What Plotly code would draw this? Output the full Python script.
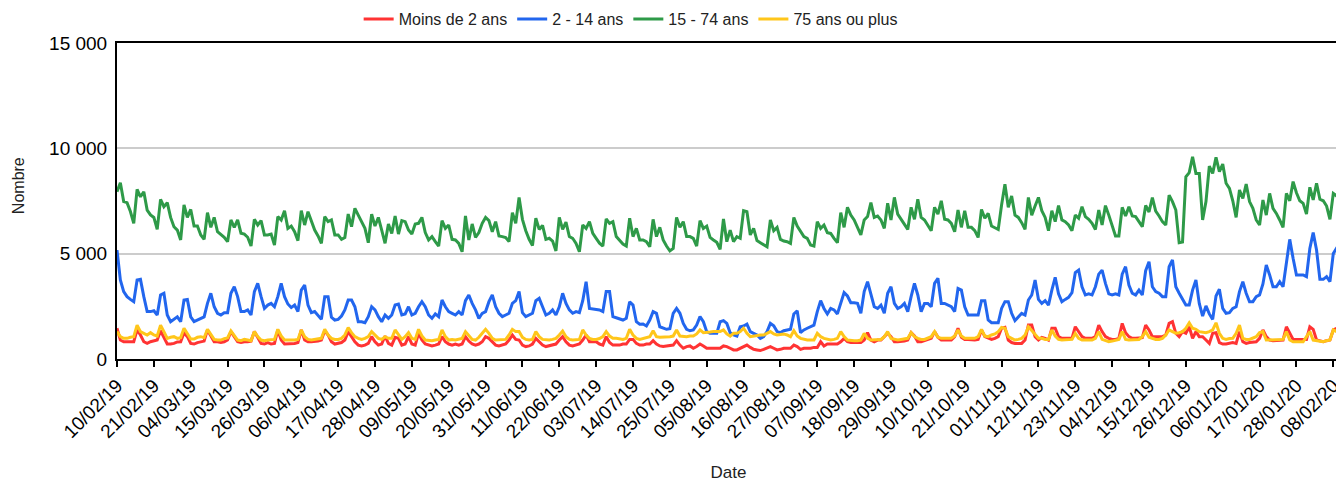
import pandas as pd
import plotly.graph_objects as go

# Daily values, 10/02/2019 -> 10/02/2020 (rows of 7 days, starting on Sunday)
dates = pd.date_range("2019-02-10", periods=366, freq="D")

moins_2_ans = [
    1460, 900, 820, 820, 820, 820, 1380,
    1140, 820, 740, 820, 850, 900, 1340,
    1060, 710, 710, 740, 810, 820, 1250,
    1060, 740, 710, 780, 810, 850, 1380,
    1060, 820, 820, 780, 820, 900, 1300,
    1060, 820, 780, 820, 820, 850, 1300,
    1030, 740, 710, 780, 710, 740, 1380,
    900, 710, 710, 710, 740, 780, 1380,
    900, 820, 820, 820, 850, 900, 1340,
    1140, 820, 710, 740, 780, 900, 1300,
    1060, 820, 660, 620, 660, 740, 1060,
    820, 660, 710, 1090, 740, 660, 1030,
    980, 660, 710, 1060, 710, 660, 1220,
    900, 710, 660, 620, 660, 710, 1060,
    820, 710, 660, 710, 660, 710, 1060,
    850, 710, 660, 710, 820, 1060, 980,
    820, 660, 620, 660, 710, 900, 1140,
    930, 900, 660, 590, 620, 710, 980,
    820, 660, 590, 620, 660, 710, 900,
    1060, 820, 660, 620, 660, 710, 900,
    1140, 820, 820, 820, 710, 660, 1060,
    780, 660, 660, 660, 710, 710, 930,
    930, 740, 660, 660, 710, 710, 870,
    710, 620, 590, 620, 660, 660, 870,
    660, 510, 590, 620, 510, 590, 710,
    620, 510, 510, 510, 510, 510, 620,
    590, 510, 430, 430, 510, 590, 660,
    550, 460, 430, 400, 460, 510, 590,
    510, 430, 460, 510, 510, 510, 660,
    590, 460, 510, 510, 510, 550, 550,
    820, 620, 710, 710, 710, 710, 820,
    980, 820, 780, 780, 780, 780, 900,
    1250, 900, 820, 900, 900, 1060, 1220,
    1060, 820, 820, 820, 850, 900, 1250,
    1090, 820, 820, 870, 900, 980, 1300,
    1030, 900, 900, 900, 900, 1060, 1460,
    1030, 930, 930, 900, 900, 930, 1380,
    1060, 980, 930, 980, 1060, 1460, 1500,
    900, 780, 740, 740, 740, 900, 1610,
    1610, 1060, 900, 1030, 980, 900, 1460,
    1460, 1060, 980, 980, 980, 980, 1530,
    1300, 1060, 980, 980, 980, 1060, 1610,
    1300, 1060, 980, 930, 930, 980, 1690,
    1250, 1060, 980, 980, 1010, 1010, 1610,
    1380, 1060, 1060, 1060, 1060, 1140, 1690,
    1770, 1220, 1060, 1300, 1220, 1530, 980,
    1300, 1060, 1060, 900, 740, 1220, 1250,
    780, 710, 710, 740, 780, 740, 1300,
    820, 740, 780, 810, 820, 980, 1380,
    1060, 900, 870, 870, 900, 900, 1530,
    1220, 930, 930, 930, 930, 930, 1530,
    1410, 900, 870, 820, 870, 900, 1380,
    1460, 1410,
]

de_2_a_14_ans = [
    5170, 3750, 3200, 2960, 2830, 2720, 3750,
    3780, 2960, 2250, 2250, 2290, 2090, 3040,
    3120, 2090, 1770, 1880, 2000, 1770, 2800,
    2830, 2000, 1770, 1850, 1930, 2000, 2640,
    3120, 2480, 2170, 2090, 2200, 2200, 3120,
    3430, 2960, 2250, 2250, 2330, 2090, 3200,
    3590, 2960, 2400, 2560, 2640, 2480, 2960,
    3590, 2960, 2610, 2440, 2560, 2250, 3270,
    3510, 2560, 2200, 2250, 2090, 1880, 2960,
    2960, 1980, 1850, 1880, 2040, 2330, 2800,
    2800, 2480, 1770, 1770, 1720, 2010, 2480,
    2330, 2010, 1770, 2090, 1930, 2090, 2560,
    2610, 2090, 2140, 2480, 2090, 2170, 2480,
    2720, 2480, 2090, 1930, 2140, 2010, 2800,
    2480, 2250, 2170, 2090, 2250, 2090, 2770,
    3040, 2640, 2330, 1930, 2170, 2250, 2720,
    3040, 2480, 2170, 2010, 2090, 2170, 2640,
    2770, 3200, 2200, 2010, 2090, 2170, 2770,
    2880, 2480, 2090, 2170, 2330, 2090, 2480,
    3120, 2640, 2330, 2170, 2250, 2200, 2770,
    3670, 2400, 2370, 2360, 2330, 2250, 3200,
    3200, 2010, 1960, 1900, 1850, 1930, 2720,
    2560, 1770, 1650, 1660, 1570, 1850, 2250,
    2170, 1530, 1460, 1410, 1440, 2170, 2400,
    2170, 1690, 1410, 1340, 1380, 1610, 2010,
    1770, 1300, 1220, 1220, 1220, 1770, 1820,
    1690, 1250, 1140, 1090, 1530, 1570, 1660,
    1300, 1220, 1140, 980, 1060, 1300, 1690,
    1580, 1300, 1250, 1340, 1380, 1410, 2140,
    2290, 1250, 1380, 1460, 1530, 1610, 2250,
    2770, 2400, 2140, 2400, 2330, 2140, 2640,
    3150, 2990, 2670, 2670, 2640, 2170, 3200,
    3670, 3090, 2480, 2400, 2560, 2170, 3120,
    3430, 2640, 2400, 2480, 2640, 2250, 2960,
    3590, 3040, 2250, 2640, 2640, 2480, 3590,
    3830, 2640, 2640, 2560, 2480, 2250, 3350,
    3270, 2480, 2090, 2090, 2090, 2090, 2770,
    2770, 1850, 1720, 1720, 1720, 2400, 2720,
    2720, 2170, 1820, 2010, 2170, 2090, 2800,
    3040, 3750, 2830, 2640, 2770, 2560, 3270,
    3880, 3090, 2720, 2830, 2930, 3150, 4100,
    4220, 3430, 3040, 3090, 3040, 3430, 4030,
    4220, 3590, 3090, 3040, 3090, 3040, 4030,
    4380, 3510, 3120, 3040, 3270, 3040, 4190,
    4620, 3430, 3200, 3120, 2960, 2960, 4380,
    4700, 3430, 3120, 2800, 2560, 2560, 3270,
    3750, 2640, 2040, 2520, 2140, 1880, 2990,
    3310, 2400, 2170, 2200, 2400, 2480, 3200,
    3670, 3120, 2720, 2720, 2960, 3040, 3560,
    4460, 3990, 3430, 3430, 3670, 3430, 4460,
    5680, 4780, 3990, 3990, 3990, 3910, 5250,
    6000, 5170, 3780, 3780, 3910, 3670, 5010,
    5250, 5520,
]

de_15_a_74_ans = [
    7940, 8370, 7470, 7420, 7000, 6440, 8050,
    7700, 7940, 7070, 6840, 6720, 6150, 7580,
    7230, 7420, 6720, 6280, 6120, 5650, 7310,
    6720, 7100, 6310, 6310, 5890, 5680, 6950,
    6250, 6720, 6040, 5890, 5780, 5570, 6600,
    6250, 6600, 5970, 5930, 5780, 5360, 6630,
    6360, 6570, 5890, 5890, 5930, 5410, 6760,
    6600, 7040, 6200, 6310, 6040, 5620, 7040,
    6360, 6990, 6520, 6120, 5840, 5490, 6760,
    6520, 6600, 5890, 5890, 5680, 5770, 6880,
    6280, 7150, 6830, 6520, 6200, 5520, 6880,
    6310, 6720, 6120, 5490, 6410, 5960, 6790,
    5930, 6570, 6520, 6120, 5930, 6410, 6440,
    6720, 6000, 5650, 5810, 5570, 5360, 6570,
    6200, 6360, 5680, 5650, 5490, 5090, 6790,
    5650, 6410, 5770, 6000, 6440, 6720, 6570,
    6040, 6520, 5840, 5810, 5760, 5570, 6950,
    6440, 7670, 6630, 6090, 5680, 5390, 6680,
    6150, 6340, 5680, 5730, 5600, 5130, 6720,
    6150, 6500, 5810, 5730, 5490, 5090, 6360,
    6200, 6520, 5960, 5730, 5500, 5360, 6650,
    6440, 6520, 5810, 5650, 5460, 5360, 6680,
    5810, 6200, 5650, 5650, 5570, 5330, 6630,
    5810, 6250, 5650, 5360, 5130, 5250, 6720,
    6250, 6520, 5810, 5810, 5730, 5360, 6570,
    6200, 6310, 5770, 5650, 5540, 5200, 6650,
    5570, 6120, 5570, 5810, 5730, 7040, 6990,
    5890, 6200, 5620, 5520, 5440, 5330, 6600,
    6090, 6250, 5680, 5600, 5570, 5490, 6720,
    6310, 6090, 5810, 5730, 5410, 5360, 6520,
    6200, 6360, 6000, 5960, 5730, 5520, 6950,
    6250, 7200, 6830, 6600, 6280, 5890, 6600,
    6760, 7420, 6720, 6790, 6600, 6200, 7390,
    6600, 7670, 6880, 6650, 6410, 6150, 7200,
    6630, 7580, 6720, 6600, 6360, 6090, 7200,
    6880, 7510, 6630, 6600, 6440, 6040, 7070,
    6250, 7040, 6250, 6250, 6090, 5770, 7100,
    6680, 6910, 6310, 6230, 6150, 7310, 8300,
    7200, 7740, 6830, 6720, 6470, 6150, 7670,
    6830, 7260, 7670, 7040, 6720, 6090, 7040,
    6520, 7280, 6600, 6520, 6360, 6090, 6830,
    6680, 7230, 6760, 6630, 6440, 6150, 7070,
    6360, 7280, 6830, 6360, 5840, 5840, 7200,
    6790, 7230, 6790, 6760, 6520, 6280, 7290,
    6980, 7660, 7020, 6790, 6520, 6360, 7780,
    7470, 7070, 5520, 5550, 8650, 8850, 9600,
    8810, 8810, 6600, 7470, 9160, 8810, 9570,
    8890, 9250, 8340, 8100, 7510, 6720, 8020,
    7620, 8300, 7470, 7150, 6600, 6360, 7550,
    6830, 7860, 7150, 6910, 6600, 6250, 7860,
    7510, 8420, 7890, 7510, 7390, 6880, 8150,
    7550, 8340, 7580, 7510, 7260, 6630, 7860,
    7740, 7550,
]

de_75_ans_ou_plus = [
    1300, 1060, 980, 980, 1030, 1060, 1610,
    1300, 1220, 1140, 1250, 1140, 1090, 1610,
    1300, 980, 1030, 1060, 980, 1010, 1460,
    1220, 950, 950, 1030, 1060, 1010, 1410,
    1140, 930, 900, 900, 970, 1000, 1330,
    1140, 900, 870, 930, 900, 870, 1300,
    1060, 900, 870, 900, 900, 930, 1410,
    1090, 900, 900, 870, 900, 930, 1380,
    1060, 930, 900, 930, 930, 980, 1410,
    1140, 980, 930, 930, 980, 1140, 1490,
    1250, 1060, 980, 930, 980, 1060, 1300,
    1140, 980, 930, 1060, 980, 980, 1380,
    1140, 930, 1060, 1250, 980, 930, 1410,
    1090, 900, 870, 870, 900, 930, 1380,
    1060, 900, 930, 900, 930, 980, 1300,
    1090, 930, 900, 1030, 1220, 1410, 1220,
    980, 900, 900, 930, 930, 1140, 1410,
    1300, 1300, 1030, 930, 900, 930, 1300,
    1060, 930, 900, 900, 930, 980, 1140,
    1330, 1060, 930, 900, 900, 930, 1380,
    1140, 980, 930, 930, 970, 1060, 1300,
    1090, 980, 980, 970, 930, 980, 1410,
    1140, 980, 930, 980, 1030, 1060, 1340,
    1060, 1030, 1030, 1030, 1060, 1090, 1380,
    1090, 1060, 1060, 1090, 1090, 1190, 1380,
    1250, 1250, 1280, 1300, 1300, 1300, 1380,
    1190, 1090, 1220, 1220, 1300, 1460, 1220,
    1060, 1090, 1140, 1140, 1140, 1220, 1300,
    1190, 1140, 1160, 1190, 1140, 1060, 1340,
    1090, 980, 930, 900, 900, 900, 1220,
    1060, 980, 930, 900, 930, 980, 1300,
    1060, 900, 870, 870, 870, 900, 1220,
    980, 900, 900, 900, 930, 1060, 1300,
    980, 930, 900, 930, 970, 980, 1250,
    1060, 980, 930, 930, 980, 1060, 1300,
    1030, 980, 980, 980, 980, 1090, 1380,
    1090, 980, 980, 980, 980, 1060, 1410,
    1090, 1060, 1140, 1190, 1300, 1500, 1460,
    1060, 980, 900, 930, 980, 1140, 1530,
    1350, 1140, 980, 980, 930, 930, 1380,
    1090, 930, 900, 900, 900, 930, 1220,
    980, 900, 900, 900, 900, 980, 1300,
    930, 870, 820, 850, 900, 930, 1300,
    930, 900, 900, 930, 930, 1060, 1300,
    1030, 980, 930, 930, 980, 1140, 1380,
    1300, 1220, 1250, 1300, 1460, 1720, 1460,
    1410, 1300, 1280, 1250, 1300, 1380, 1720,
    1220, 980, 930, 970, 980, 1220, 1610,
    980, 930, 930, 980, 1060, 1250, 1300,
    900, 900, 900, 900, 900, 930, 1300,
    900, 820, 820, 820, 820, 1060, 1300,
    900, 870, 820, 820, 870, 900, 1380,
    1300, 1090,
]

series_names = ["Moins de 2 ans", "2 - 14 ans", "15 - 74 ans", "75 ans ou plus"]
series_values = [moins_2_ans, de_2_a_14_ans, de_15_a_74_ans, de_75_ans_ou_plus]
series_colors = ["#ff3333", "#2266ee", "#2e9a48", "#ffc61a"]

y_tick_values = [0, 5000, 10000, 15000]
y_tick_labels = ["0", "5 000", "10 000", "15 000"]

FONT = "Liberation Sans, Arial, sans-serif"

fig = go.Figure()
for name, vals, col in zip(series_names, series_values, series_colors):
    fig.add_trace(go.Scatter(
        x=dates[:len(vals)], y=vals, name=name, mode="lines",
        line=dict(color=col, width=3),
    ))

# The page body keeps an 8px margin, so the figure is drawn 8px smaller
fig.update_layout(
    width=1336, height=474,
    margin=dict(l=109, r=4, t=35, b=123, autoexpand=False),
    paper_bgcolor="white", plot_bgcolor="white",
    font=dict(family=FONT, color="#222222"),
    showlegend=True,
    legend=dict(
        orientation="h", x=0.42, xanchor="center", y=1.076, yanchor="middle",
        font=dict(size=16, color="#222222"), itemwidth=30,
        bgcolor="rgba(0,0,0,0)", traceorder="normal",
    ),
    xaxis=dict(
        type="date",
        range=["2019-02-10", "2020-02-10"],
        tick0="2019-02-10", dtick=11 * 86400000,
        tickformat="%d/%m/%y", tickangle=-45,
        ticks="outside", ticklen=6, tickwidth=2, tickcolor="black",
        showline=True, linecolor="black", linewidth=2, mirror=True,
        showgrid=False, zeroline=False, automargin=False,
        tickfont=dict(size=19, color="black", family=FONT),
        title=dict(text="Date", standoff=26,
                   font=dict(size=17, color="#222222", family=FONT)),
    ),
    yaxis=dict(
        range=[0, 15000],
        tickmode="array", tickvals=y_tick_values, ticktext=y_tick_labels,
        showgrid=True, gridcolor="#cccccc", gridwidth=2,
        showline=True, linecolor="black", linewidth=2,
        ticks="", zeroline=False, automargin=False,
        ticklabelstandoff=4,
        tickfont=dict(size=19, color="black", family=FONT),
    ),
    annotations=[
        dict(text="Nombre", xref="paper", yref="paper", x=-0.081, y=0.55,
             textangle=-90, showarrow=False,
             font=dict(size=16, color="#222222", family=FONT),
             xanchor="center", yanchor="middle"),
    ],
)

fig.write_html("out.html")
